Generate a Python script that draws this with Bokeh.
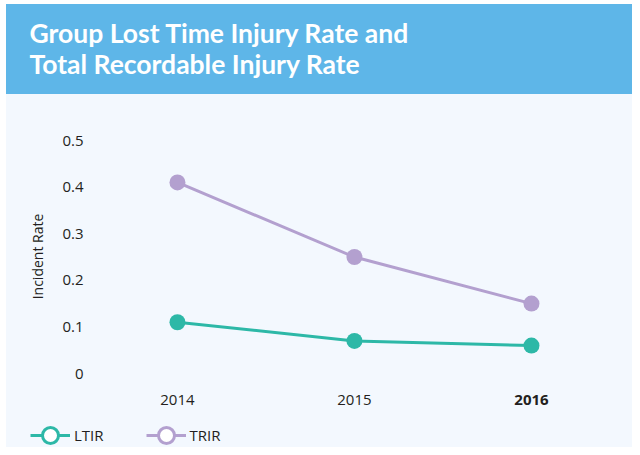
from bokeh.plotting import figure
from bokeh.models import (Range1d, ColumnDataSource, Legend, LegendItem, FixedTicker, LinearAxis)
from bokeh.layouts import column
from bokeh.embed import file_html
from bokeh.resources import INLINE
from bokeh.core.properties import value

# ---- data ----
title_lines = ["Group Lost Time Injury Rate and", "Total Recordable Injury Rate"]
years = [2014, 2015, 2016]
year_labels = ["2014", "2015", "2016"]
ltir = [0.11, 0.07, 0.06]
trir = [0.41, 0.25, 0.15]
y_ticks = [0, 0.1, 0.2, 0.3, 0.4, 0.5]
y_tick_labels = ["0", "0.1", "0.2", "0.3", "0.4", "0.5"]
series_names = ["LTIR", "TRIR"]
series_cols = ["ltir", "trir"]
y_axis_title = "Incident Rate"

# ---- styles / layout ----
BAND = "#5eb6e8"
PANEL = "#f3f8fe"
TEAL = "#2db8a7"
PURPLE = "#b3a0cf"
COLORS = [TEAL, PURPLE]
TXT = "#231f20"
FONT = "Open Sans"
W = 632
HEAD_H, CHART_H, LEG_H = 94, 326, 27
LEFT_STRIP = "linear-gradient(to right, #ffffff 6px, rgba(255,255,255,0) 6px)"
X_STANDOFF = 12
LABEL_H = 13

src = ColumnDataSource(dict(year=years, ltir=ltir, trir=trir))

# ---- header band with the two-line title ----
head = figure(width=W, height=HEAD_H, x_range=Range1d(0, W), y_range=Range1d(HEAD_H, 0),
              output_backend="svg", toolbar_location=None, min_border=0,
              x_axis_type=None, y_axis_type=None, frame_align=False,
              background_fill_color=None, border_fill_color=None, outline_line_color=None)
head.styles = {"background": f"{LEFT_STRIP}, linear-gradient(to bottom, #ffffff 4px, {BAND} 4px)"}
head.grid.visible = False
head.text(x=[29, 29], y=[32, 63], text=title_lines, text_font=value("Lato"),
          text_font_size="26.5px", text_font_style="bold", text_color="white",
          text_baseline="alphabetic", text_align="left")

# ---- chart ----
Y0, Y1 = -0.0193, 0.5215
p = figure(width=W, height=CHART_H,
           x_range=Range1d(2013.537, 2016.503), y_range=Range1d(Y0, Y1),
           output_backend="svg", toolbar_location=None,
           min_border_left=95, min_border_right=12, min_border_top=36, min_border_bottom=38,
           background_fill_color=None, border_fill_color=None, outline_line_color=None)
p.styles = {"background": f"{LEFT_STRIP}, linear-gradient({PANEL}, {PANEL})"}
p.grid.visible = False

for col, color in zip(series_cols, COLORS):
    p.line("year", col, source=src, line_color=color, line_width=3)
    p.scatter("year", col, source=src, size=16, fill_color=color, line_color=None)

def style_axis(ax):
    ax.axis_line_color = None
    ax.major_tick_line_color = None
    ax.minor_tick_line_color = None
    ax.major_tick_in = 0
    ax.major_tick_out = 0
    ax.major_label_text_font = FONT
    ax.major_label_text_font_size = "15px"
    ax.major_label_text_color = TXT

xa = p.xaxis[0]
style_axis(xa)
xa.ticker = FixedTicker(ticks=years[:2])
xa.major_label_overrides = {y: l for y, l in zip(years[:2], year_labels[:2])}
xa.major_label_standoff = X_STANDOFF

# bold label for the latest year, pulled up onto the same row as the other years
bold_ax = LinearAxis(ticker=FixedTicker(ticks=years[2:]),
                     major_label_overrides={years[2]: year_labels[2]})
style_axis(bold_ax)
bold_ax.major_label_text_font_style = "bold"
bold_ax.major_label_standoff = -LABEL_H
p.add_layout(bold_ax, "below")

ya = p.yaxis[0]
style_axis(ya)
ya.ticker = FixedTicker(ticks=y_ticks)
ya.major_label_overrides = {t: l for t, l in zip(y_ticks, y_tick_labels)}
ya.major_label_standoff = 12
ya.axis_label = y_axis_title
ya.axis_label_text_font = FONT
ya.axis_label_text_font_size = "14px"
ya.axis_label_text_font_style = "normal"
ya.axis_label_text_color = TXT
ya.axis_label_standoff = 12

# ---- legend row ----
leg = figure(width=W, height=LEG_H, x_range=Range1d(0, 1), y_range=Range1d(0, 1),
             output_backend="svg", toolbar_location=None, min_border=0,
             x_axis_type=None, y_axis_type=None, frame_align=False,
             background_fill_color=None, border_fill_color=None, outline_line_color=None)
leg.styles = {"background": f"{LEFT_STRIP}, linear-gradient({PANEL}, {PANEL})"}
leg.grid.visible = False
items = []
for name, col, color in zip(series_names, series_cols, COLORS):
    # same series drawn out of this row's view; used only for the legend glyphs
    r_line = leg.line("year", col, source=src, line_color=color, line_width=3)
    r_mark = leg.scatter("year", col, source=src, size=16, fill_color="white",
                         line_color=color, line_width=3)
    items.append(LegendItem(label=name, renderers=[r_line, r_mark]))

legend = Legend(items=items, orientation="horizontal", location=(30, -8),
                glyph_width=40, glyph_height=40, label_standoff=4, spacing=42,
                padding=0, margin=0, border_line_color=None, background_fill_alpha=0,
                label_text_font=FONT, label_text_font_size="15px", label_text_color=TXT)
leg.add_layout(legend)

layout = column(head, p, leg, spacing=0)
open("out.html", "w").write(file_html(layout, INLINE))
